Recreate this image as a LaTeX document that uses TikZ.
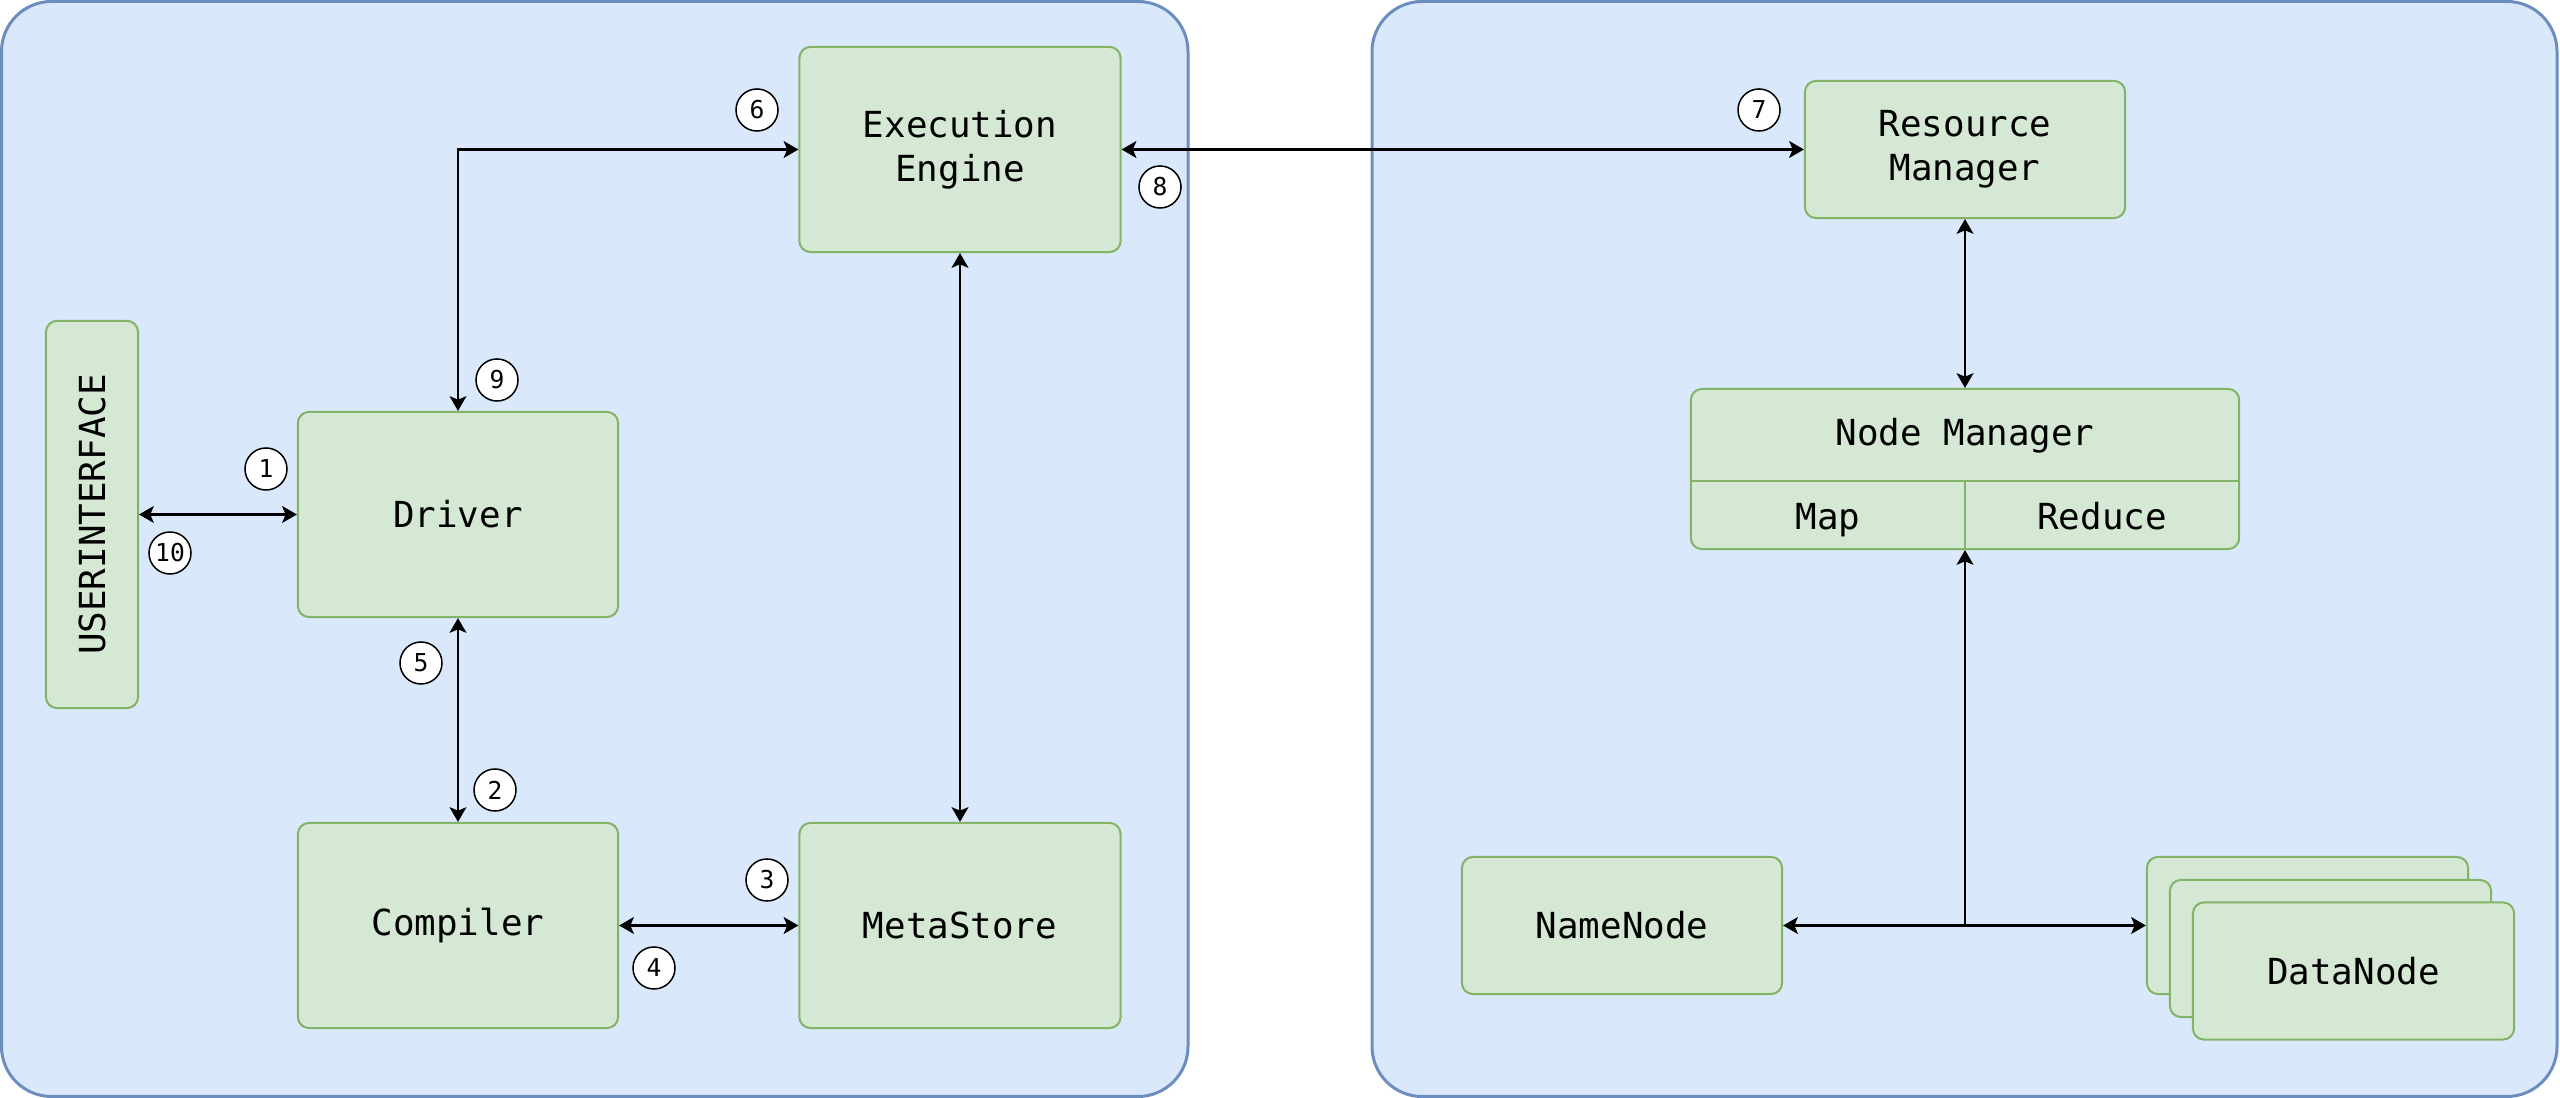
\documentclass[tikz,border=0pt]{standalone}
\usepackage{fontspec}
\setmainfont{DejaVu Sans Mono}
\usetikzlibrary{arrows.meta}
\definecolor{panelfill}{HTML}{DAE8FC}
\definecolor{paneldraw}{HTML}{6C8EBF}
\definecolor{boxfill}{HTML}{D5E8D4}
\definecolor{boxdraw}{HTML}{82B366}
\tikzset{
  panel/.style={draw=paneldraw, fill=panelfill, line width=0.03cm, rounded corners=0.5cm},
  box/.style={rectangle, draw=boxdraw, fill=boxfill, line width=0.02cm, rounded corners=0.11cm,
    align=center, inner sep=0pt, font=\fontsize{10.2}{12.6}\selectfont},
  lbl/.style={inner sep=0pt, align=center, font=\fontsize{10.2}{12.6}\selectfont},
  num/.style={circle, draw=black, fill=white, line width=0.015cm, minimum size=0.42cm,
    inner sep=0pt, font=\fontsize{7}{7}\selectfont},
  tip/.tip={Stealth[length=4.2pt,width=4.8pt,inset=1pt]},
  link/.style={line width=0.022cm, tip-tip},
  tolink/.style={line width=0.022cm, -tip}
}
\begin{document}
\begin{tikzpicture}[x=0.01cm,y=-0.01cm]
\useasboundingbox (0,0) rectangle (2560,1098);
% panels
\draw[panel] (1.5,1.5) rectangle (1188,1096.5);
\draw[panel] (1372,1.5) rectangle (2557,1096.5);

% left panel boxes
\node[box, minimum width=0.92cm, minimum height=3.87cm] (ui) at (92,514.5) {};
\node[lbl, rotate=90] (uit) at (ui.center) {USERINTERFACE};
\node[box, minimum width=3.2cm, minimum height=2.05cm] (drv) at (458,514.5) {Driver};
\node[box, minimum width=3.2cm, minimum height=2.05cm] (cmp) at (458,925.5) {Compiler};
\node[box, minimum width=3.21cm, minimum height=2.05cm] (ee) at (960,149.5) {Execution\\Engine};
\node[box, minimum width=3.21cm, minimum height=2.05cm] (ms) at (960,925.5) {MetaStore};

% right panel boxes
\node[box, minimum width=3.2cm, minimum height=1.37cm] (rm) at (1965,149.5) {Resource\\Manager};
\node[box, minimum width=5.48cm, minimum height=1.6cm] (nm) at (1965,469) {};
\draw[draw=boxdraw, line width=0.02cm] (1691,481) -- (2239,481);
\draw[draw=boxdraw, line width=0.02cm] (1965,481) -- (1965,549);
\node[lbl, anchor=base] (nmt) at (1965,446) {Node Manager};
\node[lbl, anchor=base] (map) at (1828,530) {Map};
\node[lbl, anchor=base] (red) at (2102,530) {Reduce};
\node[box, minimum width=3.2cm, minimum height=1.37cm] (nn) at (1622,925.5) {NameNode};
\node[box, minimum width=3.21cm, minimum height=1.37cm] (dn1) at (2307.5,925.5) {};
\node[box, minimum width=3.21cm, minimum height=1.37cm] (dn2) at (2330.5,948.5) {};
\node[box, minimum width=3.21cm, minimum height=1.37cm] (dn3) at (2353.5,971) {DataNode};

% connectors
\draw[link] (ui.east) -- (drv.west);
\draw[link] (drv.north) |- (ee.west);
\draw[link] (drv.south) -- (cmp.north);
\draw[link] (cmp.east) -- (ms.west);
\draw[link] (ee.south) -- (ms.north);
\draw[link] (ee.east) -- (rm.west);
\draw[link] (rm.south) -- (nm.north);
\draw[link] (nn.east) -- (dn1.west);
\coordinate (jn) at (1965,925.5);
\draw[tolink] (jn) -- (nm.south);

% step numbers
\node[num] (c1) at (266,469) {1};
\node[num] (c2) at (495,790) {2};
\node[num] (c3) at (767,880) {3};
\node[num] (c4) at (654,968) {4};
\node[num] (c5) at (421,663) {5};
\node[num] (c6) at (757,110) {6};
\node[num] (c7) at (1759,110) {7};
\node[num] (c8) at (1160,187) {8};
\node[num] (c9) at (497,380) {9};
\node[num] (c10) at (170,553) {10};
\end{tikzpicture}
\end{document}
